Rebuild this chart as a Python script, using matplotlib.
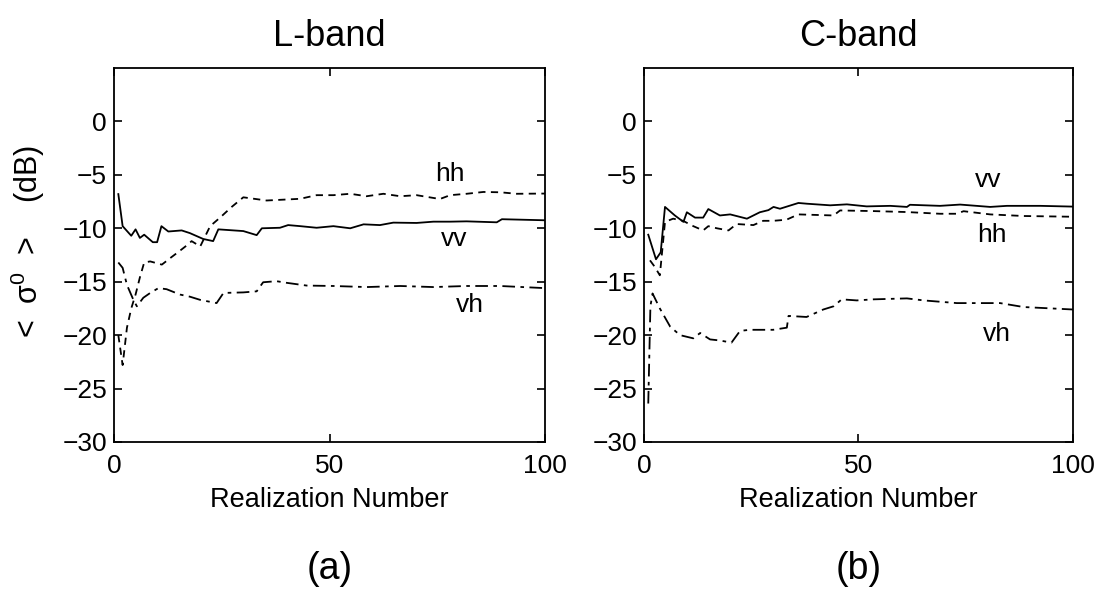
import matplotlib.pyplot as plt

plt.rcParams['font.family'] = ['Liberation Sans', 'DejaVu Sans']
plt.rcParams['mathtext.default'] = 'regular'

# L-band (realization number, dB)
l_vv_x = [1, 2, 4, 5, 6, 7, 9, 10, 11, 12.6, 15.7, 17.6, 20.7, 23, 24.2, 30, 33.1, 34.3, 38.5,
          40.4, 43.2, 47, 50.9, 54.8, 57.9, 61.7, 64.8, 70.2, 74.1, 78, 81.8, 88.8, 90, 100]
l_vv_y = [-6.8, -9.8, -10.7, -10.1, -10.9, -10.6, -11.3, -11.3, -9.8, -10.3, -10.2, -10.45, -11.0, -11.2,
          -10.1, -10.26, -10.64, -10.0, -9.95, -9.7, -9.8, -9.95, -9.8, -10.0, -9.63, -9.7, -9.47, -9.5,
          -9.38, -9.38, -9.35, -9.44, -9.15, -9.25]
l_hh_x = [1, 2, 3, 4, 5, 6, 7, 8.4, 11.1, 13, 15.3, 17.2, 18, 20, 22.3, 24.6, 27.3, 30, 35.4, 43.2,
          47, 50.9, 54.8, 58.6, 62.5, 66.4, 70.2, 75.6, 78, 81.8, 85.7, 89.6, 93.4, 100]
l_hh_y = [-20.0, -22.8, -19.3, -17.5, -16.2, -14.6, -13.2, -13.1, -13.4, -12.8, -12.1, -11.5, -11.2,
          -11.7, -9.8, -9.0, -8.0, -7.1, -7.4, -7.24, -6.9, -6.9, -6.77, -7.0, -6.77, -7.0, -6.9,
          -7.26, -6.9, -6.77, -6.6, -6.63, -6.77, -6.75]
l_vh_x = [1, 2, 3, 4.5, 5.3, 6.8, 8.4, 10.3, 12.2, 15.3, 17.6, 20, 23.8, 25.4, 30, 33.1, 34.6, 37.7,
          40, 44.7, 50.9, 58.6, 66.4, 74.1, 81.8, 89.6, 100]
l_vh_y = [-13.2, -13.7, -15.3, -16.7, -17.3, -16.5, -16.05, -15.6, -15.7, -16.2, -16.4, -16.7, -17.0,
          -16.05, -16.0, -15.9, -15.05, -14.95, -15.1, -15.36, -15.4, -15.5, -15.4, -15.5, -15.4,
          -15.4, -15.6]

# C-band
c_vv_x = [1, 2.8, 3.9, 4.9, 7.2, 9.2, 10, 11.9, 13.8, 15, 17.7, 20.1, 24, 27, 29, 30.2, 31.7, 36, 38,
          43.4, 47.3, 51.9, 57.4, 61.3, 62, 69, 73.7, 80.7, 84.6, 92.4, 100]
c_vv_y = [-10.6, -12.9, -12.25, -8.0, -8.8, -9.4, -8.5, -9.0, -9.0, -8.2, -8.8, -8.7, -9.1, -8.5, -8.3,
          -8.0, -8.17, -7.63, -7.7, -7.85, -7.76, -7.95, -7.9, -8.0, -7.8, -7.9, -7.78, -8.0, -7.9,
          -7.9, -7.97]
c_hh_x = [1.4, 2.5, 3.7, 4.9, 6.8, 9.1, 11.5, 13.8, 15, 17, 19.7, 21.6, 25.5, 27.8, 30.1, 33.2, 36,
          44.2, 45.7, 53.5, 61.3, 69, 72.9, 74.5, 80.7, 88.5, 100]
c_hh_y = [-13.0, -13.6, -14.4, -9.4, -9.1, -9.3, -9.8, -10.2, -9.8, -10.0, -10.2, -9.6, -9.7, -9.3,
          -9.3, -9.2, -8.7, -8.8, -8.33, -8.39, -8.48, -8.64, -8.64, -8.4, -8.7, -8.85, -8.92]
c_vh_x = [1, 1.5, 2, 3.7, 6.1, 8.4, 11.5, 13.1, 15.4, 17.7, 20.4, 22.4, 24.7, 30.1, 33.3, 33.7, 37.9,
          41.8, 44.2, 46.1, 49.6, 53.5, 61.3, 65.2, 72.9, 76.8, 83, 88.5, 100]
c_vh_y = [-26.4, -17.3, -16.1, -17.5, -19.2, -20.0, -20.3, -19.8, -20.4, -20.5, -20.7, -19.6, -19.5,
          -19.5, -19.3, -18.2, -18.3, -17.6, -17.3, -16.65, -16.75, -16.65, -16.56, -16.75, -17.0,
          -17.0, -17.0, -17.37, -17.6]

titles = ['L-band', 'C-band']
panel_tags = ['(a)', '(b)']
# label text, x, y for each panel
l_labels = [('hh', 78, -4.9), ('vv', 79, -11.0), ('vh', 82.6, -17.2)]
c_labels = [('vv', 80.2, -5.5), ('hh', 81.1, -10.6), ('vh', 82.3, -19.9)]

fig = plt.figure(figsize=(11.08, 5.94), dpi=100)
ax1 = fig.add_axes([0.1029, 0.2559, 0.389, 0.6296])
ax2 = fig.add_axes([0.5812, 0.2559, 0.3872, 0.6296])

dash_hh = (0, (4, 3))
dash_vh = (0, (7, 3, 2, 3))

for ax, vv, hh, vh, labels, title, tag in [
        (ax1, (l_vv_x, l_vv_y), (l_hh_x, l_hh_y), (l_vh_x, l_vh_y), l_labels, titles[0], panel_tags[0]),
        (ax2, (c_vv_x, c_vv_y), (c_hh_x, c_hh_y), (c_vh_x, c_vh_y), c_labels, titles[1], panel_tags[1])]:
    ax.plot(vv[0], vv[1], color='black', linewidth=1.3, linestyle='-')
    ax.plot(hh[0], hh[1], color='black', linewidth=1.3, linestyle=dash_hh)
    ax.plot(vh[0], vh[1], color='black', linewidth=1.3, linestyle=dash_vh)
    for txt, x, y in labels:
        ax.text(x, y, txt, fontsize=19, ha='center', va='center')
    ax.set_xlim(0, 100)
    ax.set_ylim(-30, 5)
    ax.set_xticks([0, 50, 100])
    ax.set_yticks(range(-30, 1, 5))
    ax.tick_params(direction='in', length=6, width=1.2, top=True, right=True,
                   labelsize=19)
    ax.tick_params(axis='x', pad=9)
    ax.tick_params(axis='y', pad=5)
    for s in ax.spines.values():
        s.set_linewidth(1.3)
    ax.set_xlabel('Realization Number', fontsize=19.5, labelpad=6)
    ax.set_title(title, fontsize=26, pad=16)
    ax.text(0.5, -0.34, tag, transform=ax.transAxes, fontsize=27, ha='center', va='center')

fig.text(0.025, 0.593, '<  σ$^0$  >    (dB)', rotation=90, fontsize=22, ha='center', va='center')

fig.savefig('out.png', dpi=100)
